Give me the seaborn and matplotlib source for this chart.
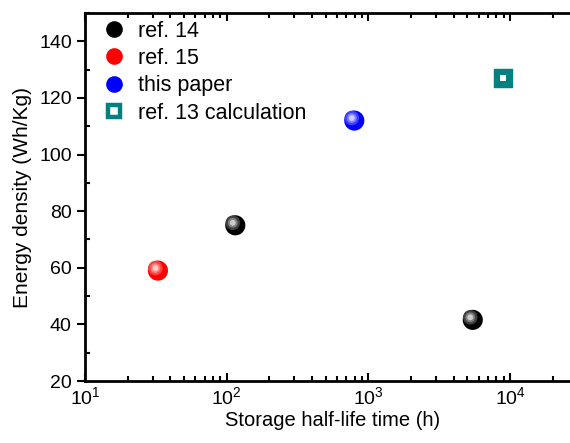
import numpy as np
import pandas as pd
import seaborn as sns
import matplotlib
matplotlib.use('Agg')
import matplotlib.pyplot as plt
from matplotlib.lines import Line2D
from matplotlib.ticker import LogLocator, MultipleLocator, LogFormatterMathtext

# values
series = ['ref. 14', 'ref. 15', 'this paper', 'ref. 13 calculation']
half_life = [[115, 5450], [32.7], [795], [8900]]
energy = [[75, 41.6], [59], [112], [127]]
colors = ['#000000', '#ff0000', '#0000ff', '#008080']

rows = []
for name, xs, ys in zip(series, half_life, energy):
    for x, y in zip(xs, ys):
        rows.append({'series': name, 'half_life': x, 'energy': y})
df = pd.DataFrame(rows)

sns.set_style('ticks')
plt.rcParams['font.family'] = ['Liberation Sans', 'DejaVu Sans']
plt.rcParams['mathtext.fontset'] = 'custom'
plt.rcParams['mathtext.rm'] = 'Liberation Sans'
plt.rcParams['mathtext.it'] = 'Liberation Sans'
plt.rcParams['text.color'] = 'black'
plt.rcParams['axes.labelcolor'] = 'black'

fig = plt.figure(figsize=(5.7, 4.43), dpi=100)
ax = fig.add_axes([85 / 570, 62 / 443, 3.5 * 141.7 / 570, 368 / 443])

spheres = df[df['series'] != 'ref. 13 calculation']
squares = df[df['series'] == 'ref. 13 calculation']

# base balls
sns.scatterplot(data=spheres, x='half_life', y='energy', hue='series',
                palette=dict(zip(series, colors)), hue_order=series[:3],
                s=210, edgecolor='none', ax=ax, zorder=3, legend=False)
# fake shading: lighter spots toward the upper left
for name, col in zip(series[:3], colors[:3]):
    sub = spheres[spheres['series'] == name]
    base = np.array(matplotlib.colors.to_rgb(col))
    for k, (sz, mix) in enumerate([(110, 0.25), (50, 0.5), (18, 0.8)]):
        c = base + (1 - base) * mix
        ax.scatter(sub['half_life'] * 0.96, sub['energy'] + 0.9, s=sz,
                   color=c, edgecolor='none', zorder=4 + k)

sns.scatterplot(data=squares, x='half_life', y='energy', marker='s',
                s=160, color=colors[3], edgecolor=colors[3], ax=ax, zorder=3,
                legend=False)
ax.scatter(squares['half_life'], squares['energy'], marker='s', s=22,
           color='white', edgecolor='none', zorder=4)

ax.set_xscale('log')
ax.set_xlim(10, 10 ** 4.5)
ax.set_ylim(20, 150)
ax.xaxis.set_major_locator(LogLocator(base=10, numticks=10))
ax.xaxis.set_major_formatter(LogFormatterMathtext())
ax.xaxis.set_minor_locator(LogLocator(base=10, subs=np.arange(2, 10), numticks=20))
ax.yaxis.set_major_locator(MultipleLocator(20))
ax.yaxis.set_minor_locator(MultipleLocator(10))

ax.tick_params(which='both', direction='in', top=True, right=False,
               labelsize=14, width=1.5, colors='black')
ax.tick_params(which='major', length=6)
ax.tick_params(which='minor', length=3.5)
ax.tick_params(axis='y', which='major', direction='out')
for sp in ax.spines.values():
    sp.set_linewidth(2)
    sp.set_color('black')
ax.spines['right'].set_visible(False)

ax.set_xlabel('Storage half-life time (h)', fontsize=14.5, labelpad=2)
ax.set_ylabel('Energy density (Wh/Kg)', fontsize=15, labelpad=5)

# legend
handles = [Line2D([], [], marker='o', linestyle='none', markersize=12,
                  markerfacecolor=c, markeredgecolor='none') for c in colors[:3]]
handles.append(Line2D([], [], marker='s', linestyle='none', markersize=8,
                      markerfacecolor='white', markeredgecolor=colors[3],
                      markeredgewidth=3.2))
ax.legend(handles, series, loc='upper left', bbox_to_anchor=(0.008, 1.0),
          frameon=False, fontsize=15.5,
          handletextpad=0.35, labelspacing=0.3, borderaxespad=0.1,
          handlelength=1.6, borderpad=0.25, labelcolor='black')

fig.savefig('out.png', dpi=100)
